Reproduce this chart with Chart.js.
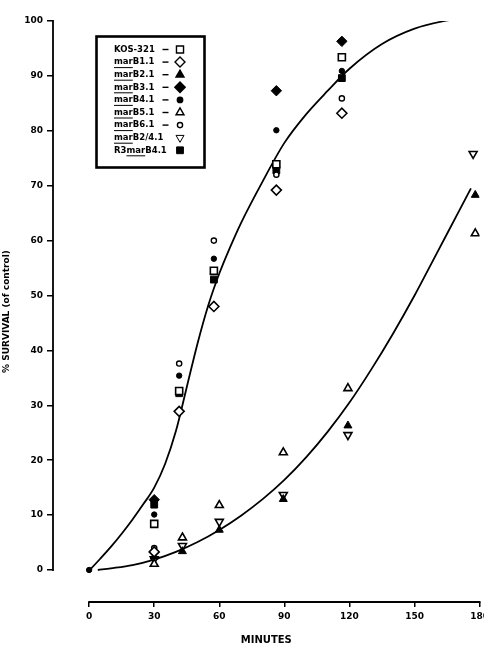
<!DOCTYPE html>
<html><head><meta charset="utf-8">
<script src="https://cdn.jsdelivr.net/npm/chart.js@4"></script>
<style>
html,body{margin:0;padding:0;background:#fff;overflow:hidden;width:484px;height:646px}
canvas{display:block}
</style></head>
<body>
<canvas id="c" width="493" height="646" style="width:493px;height:646px"></canvas>
<script>
// ---- data ----
const xTicks = [0, 30, 60, 90, 120, 150, 180];
const yTicks = [0, 10, 20, 30, 40, 50, 60, 70, 80, 90, 100];

const kosX  = [30, 41.5, 57.5, 86.3, 116.5];
const kosY  = [8.4, 32.6, 54.5, 73.9, 93.4];
const b11X  = [30, 41.5, 57.5, 86.3, 116.5];
const b11Y  = [3.3, 28.9, 48.0, 69.2, 83.2];
const b21X  = [30, 43, 60, 89.5, 119.3, 178];
const b21Y  = [2.4, 3.4, 7.3, 12.9, 26.3, 68.3];
const b31X  = [30, 86.3, 116.5];
const b31Y  = [12.8, 87.3, 96.3];
const b41X  = [0, 30, 41.5, 57.5, 86.3, 116.5, 175];
const b41Y  = [0, 10.1, 35.4, 56.7, 80.1, 90.9, 101.3];
const b51X  = [30, 43, 60, 89.5, 119.3, 178];
const b51Y  = [1.1, 5.9, 11.8, 21.4, 33.1, 61.3];
const b61X  = [30, 41.5, 57.5, 86.3, 116.5];
const b61Y  = [4.0, 37.6, 60.0, 72.0, 85.9];
const b24X  = [30, 43, 60, 89.5, 119.3, 177];
const b24Y  = [2.0, 4.4, 8.8, 13.7, 24.6, 75.8];
const r3X   = [30, 41.5, 57.5, 86.3, 116.5];
const r3Y   = [11.9, 32.2, 52.9, 72.8, 89.6];

// hand-drawn fitted curves
const upperX = [1, 5, 10, 15, 20, 25, 30, 35, 40, 45, 50, 55, 60, 65, 70, 80, 90, 100, 110, 120, 135, 150, 165, 173];
const upperY = [0.3, 2, 4.2, 6.6, 9.2, 12, 15, 19.3, 25.3, 33.3, 41.3, 48.3, 54, 58.8, 63.2, 70.8, 77.8, 83, 87.3, 91.3, 95.8, 98.6, 100.1, 100.6];
const lowerX = [4, 10, 20, 30, 40, 50, 60, 70, 80, 90, 100, 110, 120, 130, 140, 150, 160, 170, 176];
const lowerY = [0, 0.3, 0.9, 1.9, 3.3, 5.1, 7.3, 9.9, 12.9, 16.4, 20.5, 25.2, 30.5, 36.5, 43, 50, 57.5, 65, 69.5];

const legendLabels = ['KOS-321', 'marB1.1', 'marB2.1', 'marB3.1', 'marB4.1', 'marB5.1', 'marB6.1', 'marB2/4.1', 'R3marB4.1'];

// ---- helpers ----
const pts = (xs, ys) => xs.map((x, i) => ({x: x, y: ys[i]}));
const OPEN = '#ffffff', INK = '#000000';

const markerStyles = [
  {pointStyle: 'rect',     radius: 5,   fill: OPEN, rotation: 0,   bw: 1.6},
  {pointStyle: 'rectRot',  radius: 5,   fill: OPEN, rotation: 0,   bw: 1.6},
  {pointStyle: 'triangle', radius: 4.6, fill: INK,  rotation: 0,   bw: 1},
  {pointStyle: 'rectRot',  radius: 5.2, fill: INK,  rotation: 0,   bw: 1},
  {pointStyle: 'circle',   radius: 2.7, fill: INK,  rotation: 0,   bw: 1},
  {pointStyle: 'triangle', radius: 4.6, fill: OPEN, rotation: 0,   bw: 1.6},
  {pointStyle: 'circle',   radius: 2.6, fill: OPEN, rotation: 0,   bw: 1.4},
  {pointStyle: 'triangle', radius: 4.6, fill: OPEN, rotation: 180, bw: 1.6},
  {pointStyle: 'rect',     radius: 4.8, fill: INK,  rotation: 0,   bw: 1}
];
const seriesData = [
  pts(kosX, kosY), pts(b11X, b11Y), pts(b21X, b21Y), pts(b31X, b31Y), pts(b41X, b41Y),
  pts(b51X, b51Y), pts(b61X, b61Y), pts(b24X, b24Y), pts(r3X, r3Y)
];

const datasets = seriesData.map((d, i) => ({
  label: legendLabels[i],
  data: d,
  showLine: false,
  pointStyle: markerStyles[i].pointStyle,
  pointRadius: markerStyles[i].radius,
  pointRotation: markerStyles[i].rotation,
  pointBackgroundColor: markerStyles[i].fill,
  pointBorderColor: INK,
  pointBorderWidth: markerStyles[i].bw,
  pointHoverRadius: markerStyles[i].radius
}));
datasets.push({
  label: 'upper', data: pts(upperX, upperY), showLine: true, pointRadius: 0,
  borderColor: INK, borderWidth: 1.8, cubicInterpolationMode: 'monotone', fill: false
});
datasets.push({
  label: 'lower', data: pts(lowerX, lowerY), showLine: true, pointRadius: 0,
  borderColor: INK, borderWidth: 1.8, cubicInterpolationMode: 'monotone', fill: false
});

const FONT = '"DejaVu Sans", "Liberation Sans", Arial, sans-serif';

// axes drawn only over the tick range (detached axes like the original)
const axisLines = {
  id: 'axisLines',
  afterDraw(chart) {
    const {ctx, chartArea, scales} = chart;
    const x = scales.x, y = scales.y;
    ctx.save();
    ctx.strokeStyle = INK;
    ctx.lineWidth = 1.8;
    ctx.lineCap = 'square';
    ctx.beginPath();
    ctx.moveTo(chartArea.left, y.getPixelForValue(yTicks[0]));
    ctx.lineTo(chartArea.left, y.getPixelForValue(yTicks[yTicks.length - 1]));
    ctx.moveTo(x.getPixelForValue(xTicks[0]), chartArea.bottom);
    ctx.lineTo(x.getPixelForValue(xTicks[xTicks.length - 1]), chartArea.bottom);
    ctx.stroke();
    ctx.restore();
  }
};

// boxed legend inside the plot
const boxLegend = {
  id: 'boxLegend',
  afterDraw(chart) {
    const ctx = chart.ctx;
    const bx = 96.5, by = 36.5, bw = 108, bh = 131;
    ctx.save();
    ctx.strokeStyle = INK;
    ctx.lineWidth = 2.6;
    ctx.strokeRect(bx, by, bw, bh);
    ctx.font = 'bold 8.5px ' + FONT;
    ctx.textBaseline = 'middle';
    ctx.fillStyle = INK;
    legendLabels.forEach((lab, i) => {
      const ty = 49.5 + i * 12.6;
      const tx = 114;
      ctx.fillText(lab, tx, ty);
      const k = lab.indexOf('mar');
      if (k >= 0) {
        const u0 = tx + ctx.measureText(lab.slice(0, k)).width;
        const u1 = u0 + ctx.measureText('mar').width;
        ctx.lineWidth = 1;
        ctx.beginPath();
        ctx.moveTo(u0, ty + 5.5);
        ctx.lineTo(u1, ty + 5.5);
        ctx.stroke();
      }
      if (i < 7) {
        ctx.lineWidth = 1.4;
        ctx.beginPath();
        ctx.moveTo(162.5, ty);
        ctx.lineTo(168.5, ty);
        ctx.stroke();
      }
      const m = markerStyles[i];
      ctx.fillStyle = m.fill;
      ctx.strokeStyle = INK;
      Chart.helpers.drawPoint(ctx, {
        pointStyle: m.pointStyle, rotation: m.rotation, radius: m.radius, borderWidth: m.bw
      }, 180, ty);
      ctx.fillStyle = INK;
      ctx.lineWidth = 2.6;
    });
    ctx.restore();
  }
};

new Chart(document.getElementById('c'), {
  type: 'scatter',
  data: {datasets: datasets},
  plugins: [axisLines, boxLegend],
  options: {
    responsive: false,
    animation: false,
    events: [],
    layout: {padding: {top: 21, right: 0, bottom: 0, left: 0}},
    plugins: {legend: {display: false}, tooltip: {enabled: false}},
    scales: {
      x: {
        type: 'linear',
        min: -16.66,
        max: 180,
        afterBuildTicks(s) { s.ticks = xTicks.map(v => ({value: v})); },
        afterFit(s) { s.height = 44; },
        border: {display: false},
        grid: {display: true, drawOnChartArea: false, drawTicks: true, tickLength: 5, color: INK, lineWidth: 1.5},
        ticks: {color: INK, padding: 4, maxRotation: 0, autoSkip: false,
                font: {family: FONT, size: 9, weight: 'bold'}},
        title: {display: true, text: 'MINUTES', color: INK,
                font: {family: FONT, size: 10, weight: 'bold'}, padding: {top: 2, bottom: 0}}
      },
      y: {
        type: 'linear',
        min: -5.83,
        max: 100,
        afterBuildTicks(s) { s.ticks = yTicks.map(v => ({value: v})); },
        afterFit(s) { s.width = 53; },
        border: {display: false},
        grid: {display: true, drawOnChartArea: false, drawTicks: true, tickLength: 6, color: INK, lineWidth: 1.5},
        ticks: {color: INK, padding: 4, autoSkip: false,
                font: {family: FONT, size: 9, weight: 'bold'}},
        title: {display: true, text: '% SURVIVAL (of control)', color: INK,
                font: {family: FONT, size: 9, weight: 'bold'}, padding: {top: 1, bottom: 0}}
      }
    }
  }
});
</script>
</body></html>
